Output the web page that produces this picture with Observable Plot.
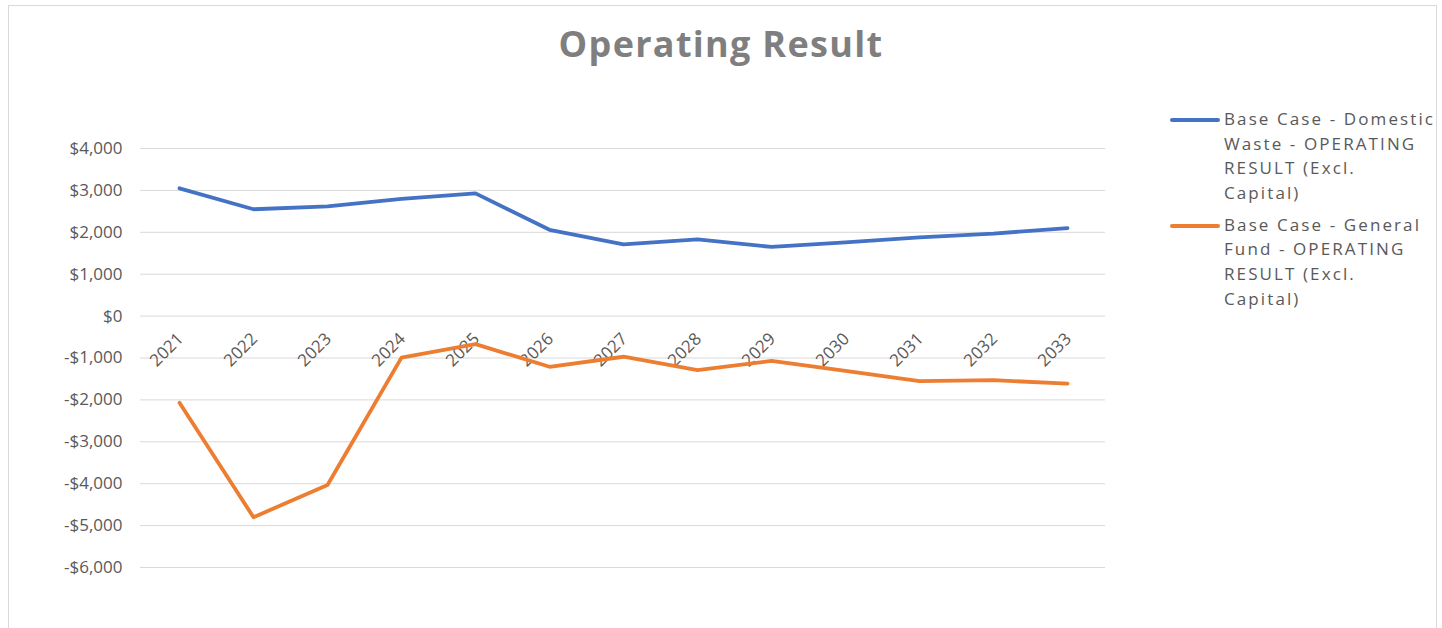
<!DOCTYPE html>
<html>
<head>
<meta charset="utf-8">
<script src="https://cdn.jsdelivr.net/npm/d3@7"></script>
<script src="https://cdn.jsdelivr.net/npm/@observablehq/plot@0.6"></script>
<style>
  html, body { margin: 0; padding: 0; background: #fff; }
  #wrap { position: relative; width: 1442px; height: 628px; overflow: hidden; font-family: "Open Sans", sans-serif; }
  #frame { position: absolute; left: 8px; top: 5px; width: 1429px; height: 660px; border: 1px solid #d9d9d9; box-sizing: border-box; }
  #title { position: absolute; left: 0; top: 0; width: 1442px; height: 85px; text-align: center; font-weight: bold; font-size: 36px; letter-spacing: 1.3px; color: #7f7f7f; line-height: 88px; }
  #chart { position: absolute; left: 0; top: 85px; }
  #legend { position: absolute; left: 1170px; top: 107px; color: #595959; font-size: 17px; letter-spacing: 2.1px; }
  .item { position: relative; padding-left: 54px; line-height: 24.6px; width: 230px; margin-bottom: 7.5px; white-space: pre; }
  .swatch { position: absolute; left: 0; top: 11px; width: 50px; height: 4px; border-radius: 2px; }
</style>
</head>
<body>
<div id="wrap">
  <div id="frame"></div>
  <div id="title">Operating Result</div>
  <div id="chart"></div>
  <div id="legend"></div>
</div>
<script>
const years = ["2021","2022","2023","2024","2025","2026","2027","2028","2029","2030","2031","2032","2033"];
const seriesNames = [
  "Base Case - Domestic Waste - OPERATING RESULT (Excl. Capital)",
  "Base Case - General Fund - OPERATING RESULT (Excl. Capital)"
];
const legendLines = [
  ["Base Case - Domestic", "Waste - OPERATING", "RESULT (Excl.", "Capital)"],
  ["Base Case - General", "Fund - OPERATING", "RESULT (Excl.", "Capital)"]
];
const domesticWaste = [3050, 2550, 2620, 2800, 2930, 2060, 1710, 1830, 1650, 1760, 1880, 1970, 2100];
const generalFund = [-2070, -4800, -4030, -990, -670, -1210, -970, -1290, -1070, -1310, -1550, -1530, -1610];
const colors = ["#4472c4", "#ed7d31"];
const yTicks = [-6000, -5000, -4000, -3000, -2000, -1000, 0, 1000, 2000, 3000, 4000];

const rows = [];
[domesticWaste, generalFund].forEach((vals, s) => {
  vals.forEach((v, i) => rows.push({year: years[i], value: v, series: seriesNames[s]}));
});

const fmt = d3.format(",");
const money = d => (d < 0 ? "-$" : "$") + fmt(Math.abs(d));

const chart = Plot.plot({
  width: 1150,
  height: 543,
  marginLeft: 140,
  marginRight: 45,
  marginTop: 63,
  marginBottom: 61,
  style: {fontFamily: "Open Sans, sans-serif", background: "transparent"},
  x: {type: "point", domain: years, padding: 0.5, axis: null},
  y: {domain: [-6000, 4000], axis: null},
  color: {domain: seriesNames, range: colors},
  marks: [
    Plot.gridY(yTicks, {stroke: "#d9d9d9", strokeOpacity: 1, strokeWidth: 1}),
    Plot.axisY(yTicks, {label: null, tickSize: 0, tickPadding: 18, tickFormat: money, fontSize: 17, fill: "#595959", style: {letterSpacing: "2px"}}),
    Plot.text(years, {x: d => d, y: () => 0, text: d => d, rotate: -45, textAnchor: "end", dx: 1, dy: 20, fontSize: 17, fill: "#595959", style: {letterSpacing: "0.8px"}}),
    Plot.line(rows, {x: "year", y: "value", z: "series", stroke: "series", strokeWidth: 3.8, strokeLinecap: "round", strokeLinejoin: "round"})
  ]
});
document.getElementById("chart").appendChild(chart);

const legend = document.getElementById("legend");
seriesNames.forEach((name, i) => {
  const item = document.createElement("div");
  item.className = "item";
  item.title = name;
  const sw = document.createElement("div");
  sw.className = "swatch";
  sw.style.background = colors[i];
  item.appendChild(sw);
  item.appendChild(document.createTextNode(legendLines[i].join("\n")));
  legend.appendChild(item);
});
</script>
</body>
</html>
